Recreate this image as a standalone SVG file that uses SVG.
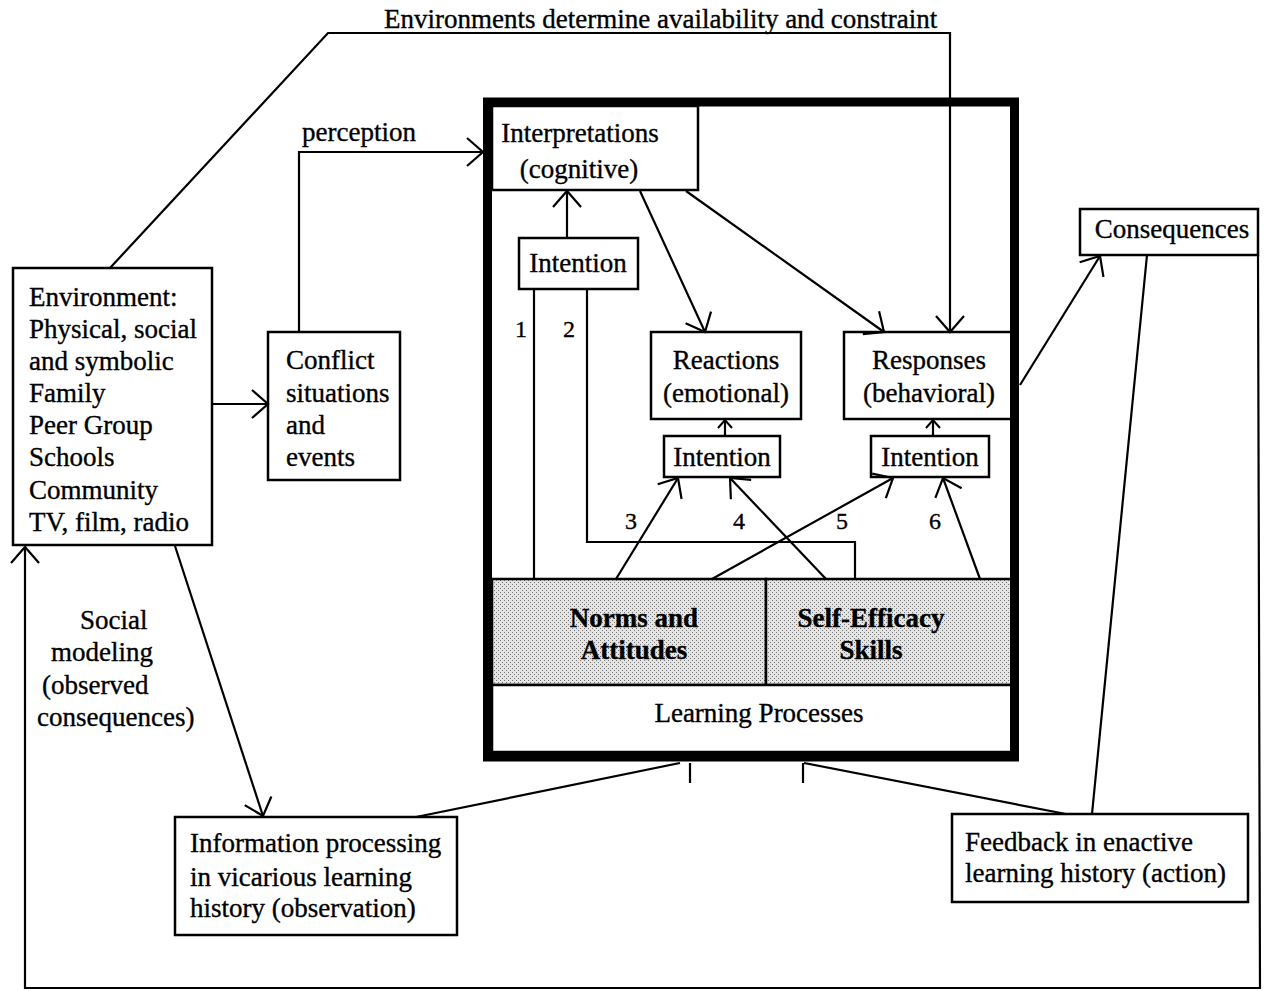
<svg xmlns="http://www.w3.org/2000/svg" width="1264" height="991" viewBox="0 0 1264 991">
<style>
.box{fill:#fff;stroke:#000;stroke-width:2.5}
.ln{fill:none;stroke:#000;stroke-width:2.2}
.t{font-family:"Liberation Serif","Times New Roman",serif;font-size:27px;fill:#000;stroke:#000;stroke-width:0.35}
.c{text-anchor:middle}
.b{font-weight:bold}
.n{font-size:24px}
</style>
<defs>
<pattern id="dots" width="4" height="4" patternUnits="userSpaceOnUse">
<rect width="4" height="4" fill="#e4e4e4"/>
<rect x="0" y="0" width="1" height="1" fill="#777"/>
<rect x="2" y="2" width="1" height="1" fill="#777"/>
</pattern>
<marker id="ar" markerUnits="userSpaceOnUse" viewBox="0 0 24 36" markerWidth="24" markerHeight="36" refX="22" refY="18" orient="auto">
<path d="M6,4 L22,18 L6,32" fill="none" stroke="#000" stroke-width="2.2"/>
</marker>
<marker id="as" markerUnits="userSpaceOnUse" viewBox="0 0 14 18" markerWidth="14" markerHeight="18" refX="12" refY="9" orient="auto">
<path d="M4,2 L12,9 L4,16" fill="none" stroke="#000" stroke-width="2"/>
</marker>
</defs>
<rect width="1264" height="991" fill="#fff"/>

<rect x="487.5" y="102" width="527" height="655" fill="#fff"/>

<g id="interpretations">
<rect class="box" x="492" y="106" width="206" height="84"/>
<text class="t c" x="580" y="142">Interpretations</text>
<text class="t c" x="579" y="178">(cognitive)</text>
</g>
<g id="intention1">
<rect class="box" x="519" y="238" width="119" height="51"/>
<text class="t c" x="578" y="272">Intention</text>
</g>
<g id="reactions">
<rect class="box" x="651" y="332" width="150" height="87"/>
<text class="t c" x="726" y="369">Reactions</text>
<text class="t c" x="726" y="402">(emotional)</text>
</g>
<g id="responses">
<rect class="box" x="844" y="332" width="168" height="87"/>
<text class="t c" x="929" y="369">Responses</text>
<text class="t c" x="929" y="402">(behavioral)</text>
</g>
<g id="intention2">
<rect class="box" x="664" y="436" width="116" height="41"/>
<text class="t c" x="722" y="466">Intention</text>
</g>
<g id="intention3">
<rect class="box" x="871" y="436" width="118" height="41"/>
<text class="t c" x="930" y="466">Intention</text>
</g>
<g id="norms">
<rect x="492" y="579" width="274" height="106" fill="url(#dots)" stroke="#000" stroke-width="2.5"/>
<text class="t c b" x="634" y="627">Norms and</text>
<text class="t c b" x="634" y="659">Attitudes</text>
</g>
<g id="selfefficacy">
<rect x="766" y="579" width="246" height="106" fill="url(#dots)" stroke="#000" stroke-width="2.5"/>
<text class="t c b" x="871" y="627">Self-Efficacy</text>
<text class="t c b" x="871" y="659">Skills</text>
</g>
<g id="learning">
<rect class="box" x="492" y="685" width="520" height="67"/>
<text class="t c" x="759" y="722">Learning Processes</text>
</g>
<g id="container">
<rect x="487.5" y="102" width="527" height="655" fill="none" stroke="#000" stroke-width="9"/>
</g>

<g id="environment">
<rect class="box" x="13" y="268" width="199" height="277"/>
<text class="t" x="29" y="306">Environment:</text>
<text class="t" x="29" y="338">Physical, social</text>
<text class="t" x="29" y="370">and symbolic</text>
<text class="t" x="29" y="402">Family</text>
<text class="t" x="29" y="434">Peer Group</text>
<text class="t" x="29" y="466">Schools</text>
<text class="t" x="29" y="499">Community</text>
<text class="t" x="29" y="531">TV, film, radio</text>
</g>
<g id="conflict">
<rect class="box" x="268" y="332" width="132" height="148"/>
<text class="t" x="286" y="369">Conflict</text>
<text class="t" x="286" y="402">situations</text>
<text class="t" x="286" y="434">and</text>
<text class="t" x="286" y="466">events</text>
</g>
<g id="consequences">
<rect class="box" x="1080" y="209" width="178" height="46"/>
<text class="t c" x="1172" y="238">Consequences</text>
</g>
<g id="information">
<rect class="box" x="175" y="817" width="282" height="118"/>
<text class="t" x="190" y="852">Information processing</text>
<text class="t" x="190" y="886">in vicarious learning</text>
<text class="t" x="190" y="917">history (observation)</text>
</g>
<g id="feedback">
<rect class="box" x="952" y="814" width="296" height="88"/>
<text class="t" x="965" y="851">Feedback in enactive</text>
<text class="t" x="965" y="882">learning history (action)</text>
</g>

<g id="connectors">
<polyline class="ln" points="110,268 328,33 950,33 950,332" marker-end="url(#ar)"/>
<polyline class="ln" points="299,332 299,152 483,152" marker-end="url(#ar)"/>
<line class="ln" x1="212" y1="404" x2="268" y2="404" marker-end="url(#ar)"/>
<line class="ln" x1="567" y1="238" x2="567" y2="191" marker-end="url(#ar)"/>
<line class="ln" x1="640" y1="191" x2="705" y2="332" marker-end="url(#ar)"/>
<line class="ln" x1="686" y1="191" x2="884" y2="332" marker-end="url(#ar)"/>
<line class="ln" x1="534" y1="290" x2="534" y2="579"/>
<polyline class="ln" points="587,290 587,542 855,542 855,579"/>
<line class="ln" x1="616" y1="579" x2="678" y2="478" marker-end="url(#ar)"/>
<line class="ln" x1="826" y1="579" x2="730" y2="478" marker-end="url(#ar)"/>
<line class="ln" x1="712" y1="579" x2="893" y2="478" marker-end="url(#ar)"/>
<line class="ln" x1="980" y1="579" x2="943" y2="478" marker-end="url(#ar)"/>
<line class="ln" x1="725" y1="436" x2="725" y2="420" marker-end="url(#as)"/>
<line class="ln" x1="933" y1="436" x2="933" y2="420" marker-end="url(#as)"/>
<line class="ln" x1="1020" y1="385" x2="1100" y2="256" marker-end="url(#ar)"/>
<line class="ln" x1="1147" y1="255" x2="1092" y2="814"/>
<polyline class="ln" points="1258,255 1260,988 25,988 25,547" marker-end="url(#ar)"/>
<line class="ln" x1="175" y1="546" x2="263" y2="816" marker-end="url(#ar)"/>
<path class="ln" d="M416,817 L680,763 M690,763 L690,783"/>
<path class="ln" d="M1066,814 L804,763 M803,763 L803,783"/>
</g>

<g id="labels">
<text class="t" x="384" y="28">Environments determine availability and constraint</text>
<text class="t" x="302" y="141">perception</text>
<text class="t n c" x="521" y="337">1</text>
<text class="t n c" x="569" y="337">2</text>
<text class="t n c" x="631" y="529">3</text>
<text class="t n c" x="739" y="529">4</text>
<text class="t n c" x="842" y="529">5</text>
<text class="t n c" x="935" y="529">6</text>
<text class="t" x="80" y="629">Social</text>
<text class="t" x="51" y="661">modeling</text>
<text class="t" x="42" y="694">(observed</text>
<text class="t" x="37" y="726">consequences)</text>
</g>
</svg>
